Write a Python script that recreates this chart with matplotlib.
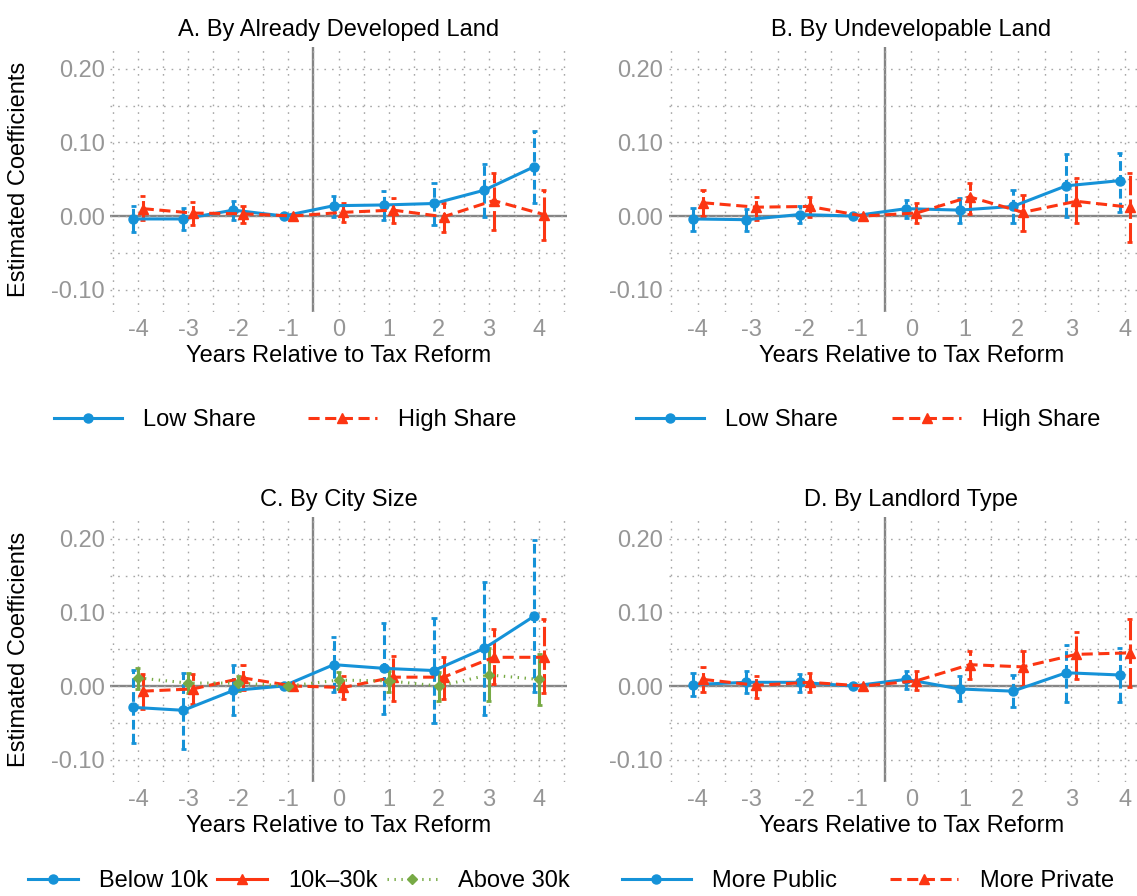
import numpy as np
import matplotlib.pyplot as plt
from matplotlib.lines import Line2D

plt.rcParams['font.family'] = ['Liberation Sans', 'DejaVu Sans']
plt.rcParams['lines.scale_dashes'] = False

# event-time axis
years = [-4, -3, -2, -1, 0, 1, 2, 3, 4]

# A. By Already Developed Land
a_low = [-0.004, -0.004, 0.008, 0.0, 0.014, 0.015, 0.017, 0.035, 0.067]
a_low_hi = [0.014, 0.011, 0.021, 0.0, 0.027, 0.034, 0.045, 0.070, 0.116]
a_low_lo = [-0.022, -0.019, -0.006, 0.0, -0.001, -0.006, -0.012, -0.001, 0.017]
a_high = [0.010, 0.004, 0.003, 0.0, 0.005, 0.008, -0.001, 0.021, 0.002]
a_high_hi = [0.027, 0.019, 0.014, 0.0, 0.017, 0.024, 0.018, 0.059, 0.035]
a_high_lo = [-0.006, -0.012, -0.009, 0.0, -0.008, -0.009, -0.022, -0.019, -0.033]

# B. By Undevelopable Land
b_low = [-0.004, -0.005, 0.002, 0.0, 0.010, 0.008, 0.013, 0.041, 0.048]
b_low_hi = [0.011, 0.009, 0.014, 0.0, 0.022, 0.024, 0.035, 0.084, 0.085]
b_low_lo = [-0.020, -0.020, -0.010, 0.0, -0.003, -0.009, -0.010, -0.002, 0.005]
b_high = [0.018, 0.012, 0.013, 0.0, 0.004, 0.026, 0.005, 0.020, 0.012]
b_high_hi = [0.036, 0.026, 0.026, 0.0, 0.017, 0.045, 0.029, 0.052, 0.059]
b_high_lo = [0.000, -0.005, -0.001, 0.0, -0.009, 0.003, -0.020, -0.010, -0.035]

# C. By City Size
c_small = [-0.029, -0.033, -0.006, 0.0, 0.029, 0.024, 0.021, 0.051, 0.095]
c_small_hi = [0.022, 0.018, 0.028, 0.0, 0.066, 0.085, 0.093, 0.141, 0.198]
c_small_lo = [-0.078, -0.085, -0.040, 0.0, -0.008, -0.038, -0.050, -0.040, -0.008]
c_mid = [-0.007, -0.004, 0.011, 0.0, -0.002, 0.012, 0.012, 0.039, 0.039]
c_mid_hi = [0.016, 0.016, 0.028, 0.0, 0.014, 0.041, 0.039, 0.078, 0.091]
c_mid_lo = [-0.031, -0.024, -0.006, 0.0, -0.018, -0.020, -0.017, 0.003, -0.010]
c_large = [0.011, 0.004, 0.004, 0.0, 0.008, 0.007, 0.000, 0.015, 0.009]
c_large_hi = [0.025, 0.017, 0.014, 0.0, 0.019, 0.021, 0.019, 0.052, 0.043]
c_large_lo = [-0.004, -0.009, -0.007, 0.0, -0.004, -0.008, -0.020, -0.020, -0.026]

# D. By Landlord Type
d_public = [0.002, 0.005, 0.005, 0.0, 0.009, -0.004, -0.007, 0.018, 0.015]
d_public_hi = [0.018, 0.020, 0.016, 0.0, 0.020, 0.014, 0.015, 0.056, 0.052]
d_public_lo = [-0.014, -0.010, -0.008, 0.0, -0.004, -0.021, -0.029, -0.022, -0.022]
d_private = [0.009, 0.001, 0.005, 0.0, 0.007, 0.029, 0.026, 0.043, 0.045]
d_private_hi = [0.026, 0.014, 0.018, 0.0, 0.020, 0.047, 0.048, 0.074, 0.091]
d_private_lo = [-0.008, -0.016, -0.008, 0.0, -0.006, 0.010, 0.000, 0.010, -0.001]

BLUE = '#1592d8'
RED = '#fc3512'
GREEN = '#77aa45'
GREY_TXT = '#969696'
FS = 17

W, H = 1137, 896
fig = plt.figure(figsize=(W / 100, H / 100), dpi=100)


def px_axes(l, t, r, b):
    return fig.add_axes([l / W, 1 - b / H, (r - l) / W, (b - t) / H])


def draw_panel(ax, title, series, ylabel=True):
    ax.set_xlim(-4.55, 4.55)
    ax.set_ylim(-0.13, 0.23)
    ax.set_xticks(years)
    ax.set_xticklabels([str(y) for y in years])
    ax.set_xticks(np.arange(-4.5, 5, 1), minor=True)
    yt = [-0.1, 0.0, 0.1, 0.2]
    ax.set_yticks(yt)
    ax.set_yticklabels([f"{v:.2f}" for v in yt])
    ax.set_yticks([-0.05, 0.05, 0.15], minor=True)
    ax.grid(which='both', color='#a6a6a6', linestyle=(0, (1.2, 4.3)), linewidth=1.0)
    ax.tick_params(which='both', length=0, labelsize=FS, labelcolor=GREY_TXT)
    ax.tick_params(axis='x', pad=5)
    ax.tick_params(axis='y', pad=4)
    for s in ax.spines.values():
        s.set_visible(False)
    ax.axhline(0, color='#858585', lw=1.7, zorder=1)
    ax.axvline(-0.5, color='#858585', lw=1.7, zorder=1)
    ax.set_title(title, fontsize=FS, pad=8)
    ax.set_xlabel("Years Relative to Tax Reform", fontsize=FS, labelpad=3)
    if ylabel:
        ax.set_ylabel("Estimated Coefficients", fontsize=FS)
        ax.yaxis.set_label_coords(-0.176, 0.5)

    x = np.array(years, dtype=float)
    for s in series:
        xs = x + s['shift']
        lo = np.array(s['lo'])
        hi = np.array(s['hi'])
        keep = hi > lo
        ax.vlines(xs[keep], lo[keep], hi[keep], color=s['color'], lw=2.2,
                  linestyles=[s['ebls']], zorder=2)
        cw = 0.05
        ax.hlines(hi[keep], xs[keep] - cw, xs[keep] + cw, color=s['color'], lw=2, zorder=2)
        ax.hlines(lo[keep], xs[keep] - cw, xs[keep] + cw, color=s['color'], lw=2, zorder=2)
        ax.plot(xs, s['y'], color=s['color'], linestyle=s['ls'], lw=2.2,
                marker=s['marker'], markersize=s['ms'], zorder=3)


def add_legend(series, cx, cy, handlelength, columnspacing):
    handles = [Line2D([], [], color=s['color'], linestyle=s['legls'], lw=2.2,
                      marker=s['marker'], markersize=s['ms']) for s in series]
    fig.legend(handles, [s['label'] for s in series], loc='center',
               bbox_to_anchor=(cx / W, 1 - cy / H), ncol=len(series), frameon=False,
               fontsize=FS, handlelength=handlelength, handletextpad=0.9,
               columnspacing=columnspacing, numpoints=1, borderpad=0.1)


DASH = (0, (8, 4))
EB_BLUE = (0, (7, 3))
EB_RED = (0, (14, 3))


def two(low, low_lo, low_hi, high, high_lo, high_hi, lab1, lab2):
    return [
        dict(y=low, lo=low_lo, hi=low_hi, shift=-0.095, color=BLUE, ls='-', legls='-',
             ebls=EB_BLUE, marker='o', ms=6.5, label=lab1),
        dict(y=high, lo=high_lo, hi=high_hi, shift=0.095, color=RED, ls=DASH, legls=DASH,
             ebls=EB_RED, marker='^', ms=7.5, label=lab2),
    ]


ser_a = two(a_low, a_low_lo, a_low_hi, a_high, a_high_lo, a_high_hi, "Low Share", "High Share")
ser_b = two(b_low, b_low_lo, b_low_hi, b_high, b_high_lo, b_high_hi, "Low Share", "High Share")
ser_d = two(d_public, d_public_lo, d_public_hi, d_private, d_private_lo, d_private_hi,
            "More Public", "More Private")
ser_c = [
    dict(y=c_small, lo=c_small_lo, hi=c_small_hi, shift=-0.095, color=BLUE, ls='-', legls='-',
         ebls=EB_BLUE, marker='o', ms=6.5, label="Below 10k"),
    dict(y=c_mid, lo=c_mid_lo, hi=c_mid_hi, shift=0.095, color=RED, ls=DASH, legls='-',
         ebls=EB_RED, marker='^', ms=7.5, label="10k\u201330k"),
    dict(y=c_large, lo=c_large_lo, hi=c_large_hi, shift=0.0, color=GREEN, ls=(0, (1, 4)),
         legls=(0, (1, 4)), ebls='-', marker='D', ms=5.5, label="Above 30k"),
]

ax_a = px_axes(110.4, 46.7, 566.6, 311.7)
ax_b = px_axes(668.6, 46.7, 1153.9, 311.7)
ax_c = px_axes(110.4, 516.7, 566.6, 781.7)
ax_d = px_axes(668.6, 516.7, 1153.9, 781.7)

draw_panel(ax_a, "A. By Already Developed Land", ser_a)
draw_panel(ax_b, "B. By Undevelopable Land", ser_b, ylabel=False)
draw_panel(ax_c, "C. By City Size", ser_c)
draw_panel(ax_d, "D. By Landlord Type", ser_d, ylabel=False)

add_legend(ser_a, 285, 420, 2.9, 2.2)
add_legend(ser_b, 868, 420, 2.9, 2.3)
add_legend(ser_c, 299, 881, 2.1, 0.4)
add_legend(ser_d, 868, 881, 2.9, 2.25)

fig.savefig("out.png", dpi=100)
